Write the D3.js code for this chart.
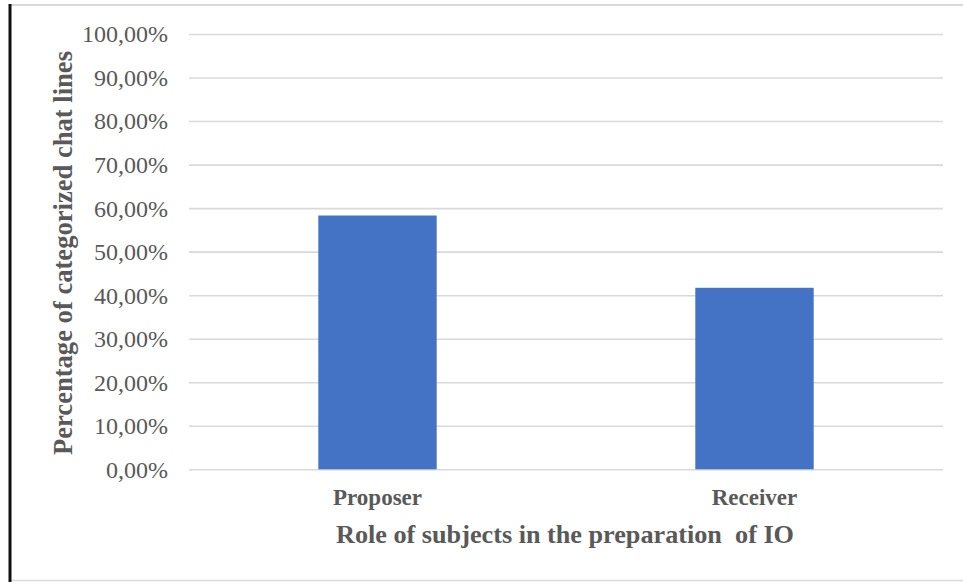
<!DOCTYPE html>
<html>
<head>
<meta charset="utf-8">
<script src="https://cdn.jsdelivr.net/npm/d3@7"></script>
<style>
  html, body { margin: 0; padding: 0; background: #ffffff; }
  svg { display: block; }
  text { font-family: "Liberation Serif", "Times New Roman", serif; fill: #595959; }
</style>
</head>
<body>
<svg id="chart" width="963" height="582"></svg>
<script>
// Share of categorized chat lines by role
const categories = ["Proposer", "Receiver"];
const shares = [0.583, 0.417];
const tickValues = [0, 0.1, 0.2, 0.3, 0.4, 0.5, 0.6, 0.7, 0.8, 0.9, 1.0];
const yTitle = "Percentage of categorized chat lines";
const xTitle = "Role of subjects in the preparation\u00a0 of IO";

const W = 963, H = 582;
const plot = { left: 189, right: 943, top: 34, bottom: 469.3 };

const svg = d3.select("#chart");

// Frame around the chart area
svg.append("line").attr("x1", 10).attr("x2", W).attr("y1", 5).attr("y2", 5)
  .attr("stroke", "#d9d9d9").attr("stroke-width", 2);
svg.append("line").attr("x1", 10).attr("x2", W).attr("y1", 580.5).attr("y2", 580.5)
  .attr("stroke", "#d9d9d9").attr("stroke-width", 1.5);
svg.append("line").attr("x1", 10).attr("x2", 10).attr("y1", 4).attr("y2", H)
  .attr("stroke", "#111111").attr("stroke-width", 3);

const commaLocale = d3.formatLocale({ decimal: ",", thousands: ".", grouping: [3], currency: ["", " €"] });
const pct = commaLocale.format(".2%");

const y = d3.scaleLinear().domain([0, 1]).range([plot.bottom, plot.top]);
const x = d3.scaleBand().domain(categories).range([plot.left, plot.right])
  .paddingInner(0.686).paddingOuter(0.343);

// Horizontal gridlines
const grid = svg.append("g").attr("transform", `translate(${plot.left},0)`)
  .call(d3.axisLeft(y).tickValues(tickValues).tickSize(-(plot.right - plot.left)).tickFormat(""));
grid.select(".domain").remove();
grid.selectAll("line").attr("stroke", "#d9d9d9").attr("stroke-width", 1.6);

// Y tick labels
const yAxis = svg.append("g").attr("transform", `translate(${plot.left},0)`)
  .call(d3.axisLeft(y).tickValues(tickValues).tickSize(0).tickPadding(21).tickFormat(pct));
yAxis.select(".domain").remove();
yAxis.selectAll("text")
  .attr("font-family", "Liberation Serif, serif")
  .attr("font-size", 24).attr("fill", "#595959").attr("dy", "0.33em");

// Bars
svg.append("g").selectAll("rect").data(categories).join("rect")
  .attr("x", d => x(d))
  .attr("width", x.bandwidth())
  .attr("y", (d, i) => y(shares[i]))
  .attr("height", (d, i) => y(0) - y(shares[i]))
  .attr("fill", "#4472c4");

// Category labels
const xAxis = svg.append("g").attr("transform", `translate(0,${plot.bottom})`)
  .call(d3.axisBottom(x).tickSize(0).tickPadding(0));
xAxis.select(".domain").remove();
xAxis.selectAll("text")
  .attr("font-family", "Liberation Serif, serif")
  .attr("font-size", 23).attr("font-weight", "bold").attr("fill", "#595959")
  .attr("dy", null).attr("y", 36);

// Axis titles
svg.append("text")
  .attr("x", 565).attr("y", 543)
  .attr("text-anchor", "middle")
  .attr("font-size", 26).attr("font-weight", "bold")
  .attr("textLength", 458).attr("lengthAdjust", "spacingAndGlyphs")
  .text(xTitle);

svg.append("text")
  .attr("transform", "translate(72,253) rotate(-90)")
  .attr("text-anchor", "middle")
  .attr("font-size", 28).attr("font-weight", "bold")
  .attr("textLength", 404).attr("lengthAdjust", "spacingAndGlyphs")
  .text(yTitle);
</script>
</body>
</html>
